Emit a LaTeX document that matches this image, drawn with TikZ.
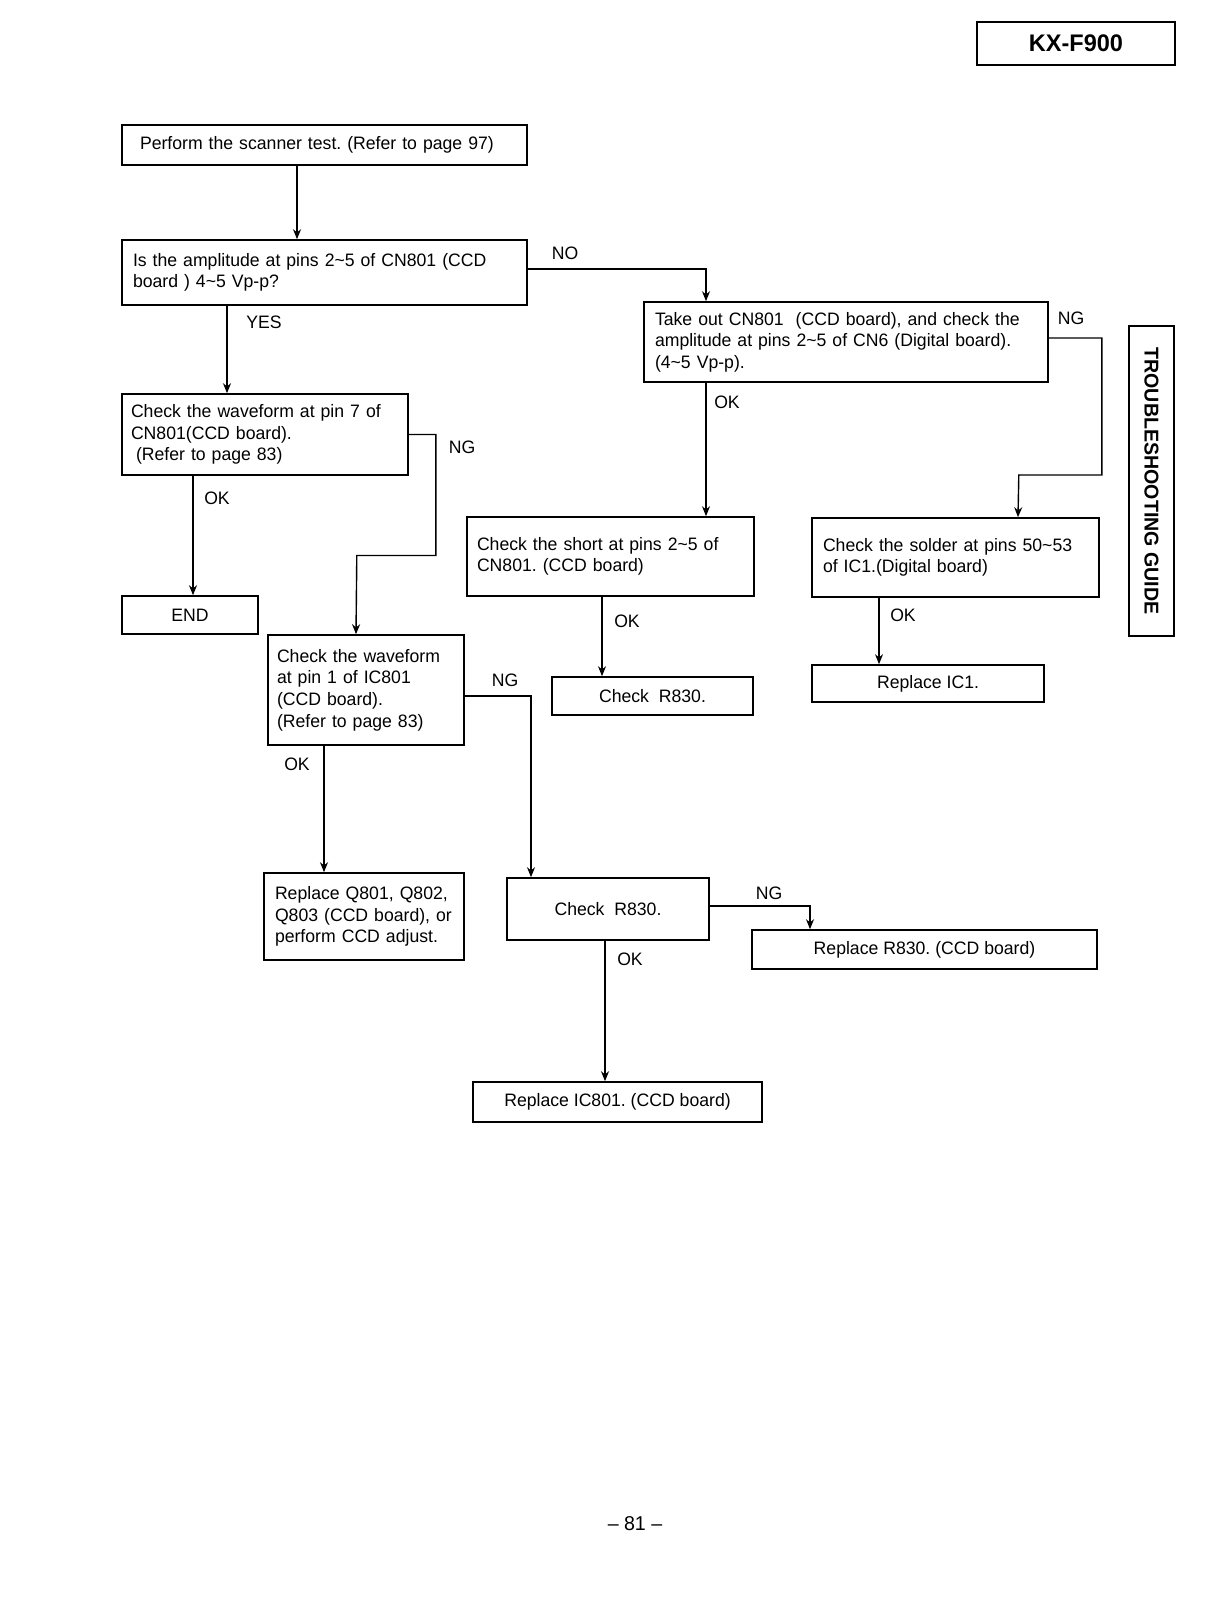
\documentclass[tikz,border=0pt]{standalone}
\usepackage{fontspec}
\setmainfont[FakeStretch=0.98]{Liberation Sans}
\usetikzlibrary{arrows.meta,calc}
\newcommand{\tld}{\textasciitilde}
\frenchspacing

\begin{document}
\begin{tikzpicture}[x=0.5pt,y=-0.5pt,
    chart/.style={draw,line width=0.8pt,inner ysep=0pt,align=left,
      font=\fontsize{9pt}{10.8pt}\selectfont},
    single/.style={draw,line width=0.8pt,inner sep=0pt,align=center,
      font=\fontsize{9pt}{10.8pt}\selectfont},
    flow/.style={line width=0.7pt,-{Stealth[length=5pt,width=4pt]}},
    lbl/.style={inner sep=0pt,font=\fontsize{9pt}{10.8pt}\selectfont}]

    % page size
      \useasboundingbox[fill=white] (0,0) rectangle (1216,1610);

    % Draw the header boxes
      \node[draw,line width=0.8pt,minimum width=99pt,minimum height=21.5pt,
        font=\fontsize{12pt}{14pt}\selectfont\bfseries] (model) at (1076,43.5) {KX-F900};
      \node[draw,line width=0.8pt,rotate=-90,minimum width=155pt,minimum height=22.5pt,
        font=\fontsize{10pt}{12pt}\selectfont\bfseries] (guide) at (1151.5,481) {TROUBLESHOOTING GUIDE};

    % Draw the left column
      \node[chart,inner xsep=9pt,text width=184.5pt,minimum height=20pt] (scan) at (324.5,145)
        {Perform the scanner test. (Refer to page 97)};
      \node[chart,inner xsep=5.5pt,text width=191.5pt,minimum height=32.5pt] (ampl) at (324.5,272.5)
        {Is the amplitude at pins 2\tld5 of CN801 (CCD\\board ) 4\tld5 Vp-p?};
      \node[chart,inner xsep=4.5pt,text width=134pt,minimum height=40.5pt] (wave7) at (265,434.5)
        {Check the waveform at pin 7 of\\CN801(CCD board).\\\hspace*{2.5pt}(Refer to page 83)};
      \node[single,minimum width=68pt,minimum height=19pt] (finish) at (190,615) {END};
      \node[chart,inner xsep=4.5pt,text width=89pt,minimum height=55pt] (wave1) at (366,690)
        {Check the waveform\\at pin 1 of IC801\\(CCD board).\\(Refer to page 83)};
      \node[chart,inner xsep=5.5pt,text width=89pt,minimum height=43.5pt] (replq) at (364,916.5)
        {\mbox{Replace Q801, Q802,}\\\mbox{Q803 (CCD board), or}\\\mbox{perform CCD adjust.}};
      \node[single,minimum width=101pt,minimum height=31pt] (resB) at (608,909) {Check~ R830.};
      \node[single,minimum width=172.5pt,minimum height=19.5pt] (replr) at (924.5,949.5)
        {Replace R830. (CCD board)};
      \node[single,minimum width=144.5pt,minimum height=20pt] (replic) at (617.5,1102)
        {Replace IC801. (CCD board)};

    % Draw the right column
      \node[chart,inner xsep=5.5pt,text width=191pt,minimum height=40pt] (cnsix) at (846,342)
        {Take out CN801~ (CCD board), and check the\\amplitude at pins 2\tld5 of CN6 (Digital board).\\(4\tld5 Vp-p).};
      \node[chart,inner xsep=5pt,text width=133.5pt,minimum height=39.5pt] (short) at (610.5,556.5)
        {Check the short at pins 2\tld5 of\\CN801. (CCD board)};
      \node[single,minimum width=100.5pt,minimum height=19pt] (resA) at (652.5,696) {Check~ R830.};
      \node[chart,inner xsep=5.5pt,text width=132.5pt,minimum height=39.5pt] (solder) at (955.5,557.5)
        {Check the solder at pins 50\tld53\\of IC1.(Digital board)};
      \node[single,minimum width=116pt,minimum height=18.5pt] (replone) at (928,683.5) {Replace IC1.};

    % Draw the connectors
      \draw[flow] ($(scan.south)+(-27.5,0)$) -- ($(ampl.north)+(-27.5,0)$);
      \draw[flow] ($(ampl.east)+(0,-3.5)$) -| ($(cnsix.north)+(-140,0)$);
      \draw[flow] ($(ampl.south)+(-97.5,0)$) -- ($(wave7.north)+(-38,0)$);
      \draw[flow] ($(wave7.south)+(-72,0)$) -- ($(finish.north)+(3,0)$);
      \draw[flow] (wave7.east) -- ++(27,0) |- ++(-79,121) -- ($(wave1.north)+(-10,0)$);
      \draw[flow] ($(wave1.east)+(0,6)$) -| ($(resB.north)+(-77,0)$);
      \draw[flow] ($(wave1.south)+(-42,0)$) -- ($(replq.north)+(-40,0)$);
      \draw[flow] ($(resB.east)+(0,-3)$) -| ($(replr.north)+(-114.5,0)$);
      \draw[flow] ($(resB.south)+(-3,0)$) -- ($(replic.north)+(-12.5,0)$);
      \draw[flow] ($(cnsix.south)+(-140,0)$) -- ($(short.north)+(95.5,0)$);
      \draw[flow] ($(short.south)+(-8.5,0)$) -- ($(resA.north)+(-50.5,0)$);
      \draw[flow] ($(cnsix.east)+(0,-4)$) -- ++(53,0) |- ++(-83,137) -- ($(solder.north)+(62.5,0)$);
      \draw[flow] ($(solder.south)+(-76.5,0)$) -- ($(replone.north)+(-49,0)$);

    % Draw the branch labels
      \node[lbl] (no) at (565,253) {NO};
      \node[lbl] (yes) at (264,322) {YES};
      \node[lbl] (okseven) at (217,498) {OK};
      \node[lbl] (ngseven) at (462,447) {NG};
      \node[lbl] (ngone) at (505,680) {NG};
      \node[lbl] (okone) at (297,764) {OK};
      \node[lbl] (ngres) at (769,893) {NG};
      \node[lbl] (okres) at (630,959) {OK};
      \node[lbl] (oksix) at (727,402) {OK};
      \node[lbl] (okshort) at (627,621) {OK};
      \node[lbl] (ngsix) at (1071,318) {NG};
      \node[lbl] (oksolder) at (903,615) {OK};

    % page number
      \node[lbl,font=\fontsize{10pt}{12pt}\selectfont] (page) at (635,1524) {-- 81 --};

\end{tikzpicture}
\end{document}
